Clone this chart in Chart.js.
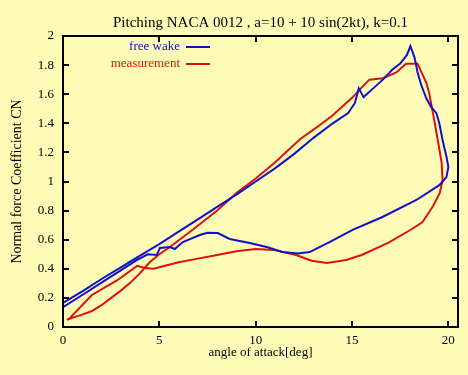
<!DOCTYPE html>
<html>
<head>
<meta charset="utf-8">
<title>Pitching NACA 0012</title>
<script src="https://cdn.jsdelivr.net/npm/chart.js@4"></script>
<style>
  html, body { margin: 0; padding: 0; background: #fffcb8; }
  #wrap { width: 468px; height: 375px; }
</style>
</head>
<body>
<div id="wrap"><canvas id="cnChart" width="468" height="375"></canvas></div>
<script>
'use strict';

/* --------------------------------------------------------------------------
   DATA
   -------------------------------------------------------------------------- */
const TITLE = 'Pitching NACA 0012 , a=10 + 10 sin(2kt), k=0.1';

// free wake (computed), one full pitching cycle: up-stroke then down-stroke
const wakeAlpha = [0, 1, 2, 3, 4, 5, 6, 7, 8, 9, 10, 11, 12, 13, 14, 14.8, 15.15, 15.35, 15.6, 16.1,
    16.6, 17.1, 17.5, 17.85, 18.03, 18.25, 18.4, 18.6, 18.86, 19.12, 19.38, 19.53, 19.7, 19.9, 20.0,
    19.9, 19.53, 18.34, 16.58, 15.03, 13.83, 12.8, 12.2, 11.4, 10.57, 9.69, 8.65, 8.03, 7.5, 7.1,
    6.22, 5.8, 5.54, 5.03, 4.87, 4.4, 3.83, 2, 1, 0];
const wakeCn = [0.165, 0.245, 0.33, 0.41, 0.49, 0.57, 0.655, 0.74, 0.825, 0.91, 1.0, 1.09, 1.19, 1.30, 1.40, 1.47, 1.54, 1.64, 1.58, 1.64,
    1.70, 1.77, 1.81, 1.87, 1.93, 1.85, 1.75, 1.66, 1.57, 1.51, 1.47, 1.40, 1.285, 1.17, 1.10,
    1.03, 0.975, 0.873, 0.756, 0.667, 0.584, 0.515, 0.505, 0.515, 0.55, 0.577, 0.605, 0.646, 0.648, 0.632,
    0.584, 0.536, 0.55, 0.543, 0.495, 0.50, 0.46, 0.305, 0.22, 0.137];

// measurement
const measAlpha = [0.2, 0.6, 1.0, 1.5, 2.0, 2.5, 3.0, 3.5, 4.0, 4.5, 5.0, 5.6, 6.7, 8.0, 9.0, 10.0, 11.0, 12.3, 13.2, 14.0,
    15.0, 15.5, 15.9, 16.6, 17.3, 17.8, 18.4, 18.85, 19.0, 19.2, 19.45, 19.65, 19.7, 19.55, 19.2, 18.65, 18.0,
    16.9, 15.5, 14.7, 13.7, 12.9, 12.1, 10.9, 10.0, 9.0, 8.0, 7.0, 6.0, 4.7, 4.25, 3.85, 2.8, 1.5, 0.35, 0.2];
const measCn = [0.05, 0.068, 0.085, 0.11, 0.15, 0.2, 0.25, 0.305, 0.37, 0.445, 0.50, 0.555, 0.665, 0.80, 0.92, 1.02, 1.13, 1.29, 1.375, 1.455,
    1.575, 1.645, 1.70, 1.71, 1.75, 1.81, 1.81, 1.68, 1.61, 1.47, 1.285, 1.13, 1.01, 0.92, 0.83, 0.72, 0.665,
    0.58, 0.495, 0.46, 0.44, 0.455, 0.495, 0.53, 0.536, 0.52, 0.495, 0.47, 0.445, 0.40, 0.405, 0.42, 0.32, 0.22, 0.06, 0.05];

const xTicks = [0, 5, 10, 15, 20];
const yTicks = [0, 0.2, 0.4, 0.6, 0.8, 1, 1.2, 1.4, 1.6, 1.8, 2];
const yTickLabels = ['0', '0.2', '0.4', '0.6', '0.8', '1', '1.2', '1.4', '1.6', '1.8', '2'];

const COLORS = { bg: '#fffcb8', wake: '#1010cc', meas: '#dd1111', ink: '#000000' };
const SERIF = '"Liberation Serif", "DejaVu Serif", serif';

/* --------------------------------------------------------------------------
   PLUGINS — page background, gnuplot style frame with inward ticks, key
   -------------------------------------------------------------------------- */
const pageBackground = {
    id: 'pageBackground',
    beforeDraw(chart) {
        const { ctx, width, height } = chart;
        ctx.save();
        ctx.fillStyle = COLORS.bg;
        ctx.fillRect(0, 0, width, height);
        ctx.restore();
    },
};

const frameTicks = {
    id: 'frameTicks',
    afterDatasetsDraw(chart) {
        const { ctx, chartArea: a, scales: { x, y } } = chart;
        const len = 6;
        ctx.save();
        ctx.strokeStyle = COLORS.ink;
        ctx.lineWidth = 2;
        ctx.beginPath();
        x.ticks.forEach(t => {
            const px = Math.round(x.getPixelForValue(t.value));
            ctx.moveTo(px, a.bottom); ctx.lineTo(px, a.bottom - len);
            ctx.moveTo(px, a.top); ctx.lineTo(px, a.top + len);
        });
        y.ticks.forEach(t => {
            const py = Math.round(y.getPixelForValue(t.value));
            ctx.moveTo(a.left, py); ctx.lineTo(a.left + len, py);
            ctx.moveTo(a.right, py); ctx.lineTo(a.right - len, py);
        });
        ctx.stroke();
        ctx.strokeRect(a.left, a.top, a.right - a.left, a.bottom - a.top);
        ctx.restore();
    },
};

// key in gnuplot layout: right-aligned label, line sample to its right
const plotKey = {
    id: 'plotKey',
    afterDraw(chart) {
        const { ctx } = chart;
        ctx.save();
        ctx.font = '13px ' + SERIF;
        ctx.textAlign = 'right';
        ctx.textBaseline = 'middle';
        chart.data.datasets.forEach((ds, i) => {
            const ky = 47 + i * 17;
            ctx.fillStyle = ds.borderColor;
            ctx.fillText(ds.label, 180, ky);
            ctx.strokeStyle = ds.borderColor;
            ctx.lineWidth = 2;
            ctx.beginPath();
            ctx.moveTo(186, ky);
            ctx.lineTo(210, ky);
            ctx.stroke();
        });
        ctx.restore();
    },
};

/* --------------------------------------------------------------------------
   CN vs ANGLE OF ATTACK — scatter with lines
   -------------------------------------------------------------------------- */
function renderCnChart() {
    const ctx = document.getElementById('cnChart').getContext('2d');
    const toPoints = (xs, ys) => xs.map((v, i) => ({ x: v, y: ys[i] }));

    Chart.defaults.font.family = SERIF;
    Chart.defaults.color = COLORS.ink;

    return new Chart(ctx, {
        type: 'scatter',
        data: {
            datasets: [
                { label: 'free wake', data: toPoints(wakeAlpha, wakeCn), borderColor: COLORS.wake, borderWidth: 2, showLine: true, pointRadius: 0, tension: 0 },
                { label: 'measurement', data: toPoints(measAlpha, measCn), borderColor: COLORS.meas, borderWidth: 2, showLine: true, pointRadius: 0, tension: 0 },
            ],
        },
        options: {
            responsive: false, animation: false,
            layout: { padding: { left: 0, right: 10, top: 0, bottom: 0 } },
            plugins: {
                legend: { display: false },
                tooltip: { enabled: false },
                title: {
                    display: true, text: TITLE, color: COLORS.ink, fullSize: false,
                    font: { size: 15, weight: 'normal' },
                    padding: { top: 14, bottom: 4 },
                },
            },
            scales: {
                x: {
                    type: 'linear', min: 0, max: 20.5,
                    afterBuildTicks: s => { s.ticks = xTicks.map(v => ({ value: v })); },
                    afterFit: s => { s.height = 48; },
                    ticks: { padding: 6, font: { size: 13 }, color: COLORS.ink },
                    grid: { display: false, drawTicks: false },
                    border: { display: false },
                    title: { display: true, text: 'angle of attack[deg]', color: COLORS.ink, font: { size: 13 }, padding: { top: 0, bottom: 15 } },
                },
                y: {
                    type: 'linear', min: 0, max: 2,
                    afterBuildTicks: s => { s.ticks = yTicks.map(v => ({ value: v })); },
                    afterFit: s => { s.width = 63; },
                    ticks: { padding: 9, font: { size: 13 }, color: COLORS.ink, callback: (v, i) => yTickLabels[i] },
                    grid: { display: false, drawTicks: false },
                    border: { display: false },
                    title: { display: true, text: 'Normal force Coefficient CN', color: COLORS.ink, font: { size: 14 }, padding: { top: 9, bottom: 0 } },
                },
            },
        },
        plugins: [pageBackground, frameTicks, plotKey],
    });
}

renderCnChart();
</script>
</body>
</html>
